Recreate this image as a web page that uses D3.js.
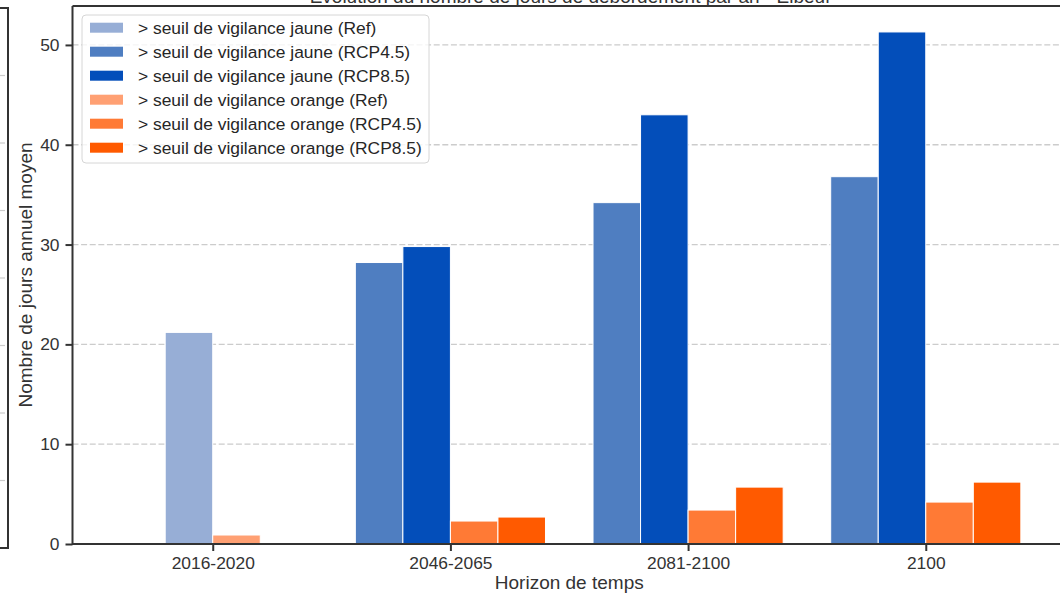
<!DOCTYPE html>
<html>
<head>
<meta charset="utf-8">
<script src="https://cdn.jsdelivr.net/npm/d3@7"></script>
<style>
  html, body { margin: 0; padding: 0; background: #fff; }
  svg { display: block; font-family: "Liberation Sans", Arial, sans-serif; }
</style>
</head>
<body>
<svg id="chart" width="1060" height="594"></svg>
<script>
// Horizons de temps
const categories = ["2016-2020", "2046-2065", "2081-2100", "2100"];

// Nombre de jours annuel moyen au-dessus des seuils (null = pas de valeur)
const jauneRef   = [21.2, null, null, null];
const jauneRcp45 = [null, 28.2, 34.2, 36.8];
const jauneRcp85 = [null, 29.8, 43.0, 51.3];
const orangeRef   = [0.9, null, null, null];
const orangeRcp45 = [null, 2.3, 3.4, 4.2];
const orangeRcp85 = [null, 2.7, 5.7, 6.2];

const seriesNames = [
  "> seuil de vigilance jaune (Ref)",
  "> seuil de vigilance jaune (RCP4.5)",
  "> seuil de vigilance jaune (RCP8.5)",
  "> seuil de vigilance orange (Ref)",
  "> seuil de vigilance orange (RCP4.5)",
  "> seuil de vigilance orange (RCP8.5)"
];
const seriesValues = [jauneRef, jauneRcp45, jauneRcp85, orangeRef, orangeRcp45, orangeRcp85];
const seriesColors = ["#97aed6", "#4f7ec1", "#034eba", "#ffa073", "#ff7a35", "#ff5a00"];

const yTicks = [0, 10, 20, 30, 40, 50];

const titleText = "Evolution du nombre de jours de débordement par an - Elbeuf";
const xLabel = "Horizon de temps";
const yLabel = "Nombre de jours annuel moyen";

const svg = d3.select("#chart");
const ink = "#333333";

// Plot area
const plotLeft = 72.5, plotRight = 1066, plotTop = 6, plotBottom = 544;

const x = d3.scalePoint().domain(categories).range([plotLeft, plotRight]).padding(0.59);
const y = d3.scaleLinear().domain([0, 53.9]).range([plotBottom, plotTop]);
const barW = x.step() * 0.2;

// Neighbouring panel frame on the far left
const yPrev = d3.scaleLinear().domain([0, 8]).range([548, 8]);
const prev = svg.append("g");
prev.selectAll("line.pg").data(d3.range(1, 8)).join("line")
  .attr("x1", 0).attr("x2", 7)
  .attr("y1", d => yPrev(d)).attr("y2", d => yPrev(d))
  .attr("stroke", "#cccccc").attr("stroke-width", 1.2)
  .attr("stroke-dasharray", "5,2.5");
prev.append("path")
  .attr("d", `M0,${yPrev(8)}H8V${yPrev(0)}H0`)
  .attr("fill", "none").attr("stroke", ink).attr("stroke-width", 2);

// Grid
const grid = svg.append("g");
grid.selectAll("line").data(yTicks.filter(d => d > 0)).join("line")
  .attr("x1", plotLeft).attr("x2", plotRight)
  .attr("y1", d => y(d)).attr("y2", d => y(d))
  .attr("stroke", "#cccccc").attr("stroke-width", 1.3)
  .attr("stroke-dasharray", "6,2.6");

// Bars: in each horizon, only the available series are drawn, centred on the tick
const bars = [];
categories.forEach((c, i) => {
  const present = seriesValues.map((v, s) => ({ s, v: v[i] })).filter(d => d.v != null);
  present.forEach((d, j) => {
    bars.push({ cat: c, s: d.s, v: d.v, off: (j - (present.length - 1) / 2) * barW });
  });
});
svg.append("g").selectAll("rect").data(bars).join("rect")
  .attr("x", d => x(d.cat) + d.off - barW / 2)
  .attr("width", barW)
  .attr("y", d => y(d.v))
  .attr("height", d => y(0) - y(d.v))
  .attr("fill", d => seriesColors[d.s])
  .attr("stroke", "#ffffff").attr("stroke-width", 1);

// Axes
const yAxis = d3.axisLeft(y).tickValues(yTicks).tickSize(7).tickPadding(6).tickFormat(d3.format("d"));
const xAxis = d3.axisBottom(x).tickSize(7).tickPadding(6);

const gy = svg.append("g").attr("transform", `translate(${plotLeft},0)`).call(yAxis);
const gx = svg.append("g").attr("transform", `translate(0,${plotBottom})`).call(xAxis);
[gx, gy].forEach(g => {
  g.select(".domain").remove();
  g.selectAll(".tick line").attr("stroke", ink).attr("stroke-width", 2);
  g.selectAll(".tick text").attr("fill", ink).style("font-size", "17.4px")
    .style("font-family", "'Liberation Sans', Arial, sans-serif");
});

// Spines
svg.append("path")
  .attr("d", `M${plotLeft},${plotTop}V${plotBottom}H${plotRight}`)
  .attr("fill", "none").attr("stroke", ink).attr("stroke-width", 2);
svg.append("line").attr("x1", plotLeft).attr("x2", plotRight).attr("y1", plotTop).attr("y2", plotTop)
  .attr("stroke", ink).attr("stroke-width", 2);

// Labels
svg.append("text").attr("x", (plotLeft + plotRight) / 2).attr("y", 589)
  .attr("text-anchor", "middle").attr("fill", ink).style("font-size", "19px").text(xLabel);
svg.append("text").attr("transform", `translate(32,${(plotTop + plotBottom) / 2}) rotate(-90)`)
  .attr("text-anchor", "middle").attr("fill", ink).style("font-size", "19px").text(yLabel);
svg.append("text").attr("x", 570).attr("y", 3)
  .attr("text-anchor", "middle").attr("fill", ink).style("font-size", "19px").text(titleText);

// Legend
const leg = svg.append("g");
leg.append("rect").attr("x", 82).attr("y", 15).attr("width", 347).attr("height", 148)
  .attr("rx", 4).attr("fill", "#ffffff").attr("fill-opacity", 0.8)
  .attr("stroke", "#d6d6d6").attr("stroke-width", 1);
const items = leg.selectAll("g.item").data(seriesNames).join("g")
  .attr("transform", (d, i) => `translate(0,${27.7 + i * 24})`);
items.append("rect").attr("x", 90).attr("y", -5).attr("width", 33).attr("height", 10)
  .attr("fill", (d, i) => seriesColors[i]);
items.append("text").attr("x", 138).attr("dy", "0.35em")
  .attr("fill", "#262626").style("font-size", "17.4px").text(d => d);
</script>
</body>
</html>
